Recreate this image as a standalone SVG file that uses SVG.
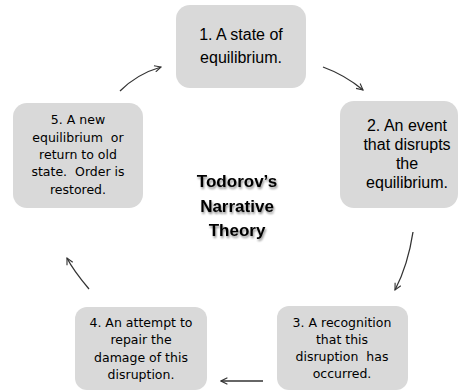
<svg xmlns="http://www.w3.org/2000/svg" width="463" height="391" viewBox="0 0 463 391">
<style>
.box{fill:#d9d9d9;}
.t1{font-family:"Liberation Sans",Arial,sans-serif;font-size:16px;fill:#000;text-anchor:middle;}
.t2{font-family:"DejaVu Sans",Verdana,sans-serif;font-size:12.5px;fill:#000;text-anchor:middle;white-space:pre;}
.title{font-family:"Liberation Sans",Arial,sans-serif;font-weight:bold;font-size:17px;fill:#000;text-anchor:middle;}
.conn{fill:none;stroke:#333;stroke-width:1.3;marker-end:url(#arr);}
</style>
<defs>
<marker id="arr" viewBox="0 0 10 10" refX="9" refY="5" markerWidth="8" markerHeight="8" orient="auto" markerUnits="userSpaceOnUse">
<path d="M1,1 L9,5 L1,9" fill="none" stroke="#333" stroke-width="1.4"/>
</marker>
<filter id="sh" x="-20%" y="-20%" width="140%" height="140%">
<feGaussianBlur in="SourceAlpha" stdDeviation="1"/>
<feOffset dx="1" dy="1.5" result="b"/>
<feComponentTransfer><feFuncA type="linear" slope="0.45"/></feComponentTransfer>
<feMerge><feMergeNode/><feMergeNode in="SourceGraphic"/></feMerge>
</filter>
</defs>
<rect width="463" height="391" fill="#fff"/>
<g id="node1">
<rect class="box" x="176" y="5" width="130" height="83" rx="14"/>
<text class="t1" x="241" y="40">1. A state of</text>
<text class="t1" x="241" y="63">equilibrium.</text>
</g>
<g id="node2">
<rect class="box" x="340" y="101" width="118" height="107" rx="14"/>
<text class="t1" x="407" y="131">2. An event</text>
<text class="t1" x="407" y="150">that disrupts</text>
<text class="t1" x="407" y="169">the</text>
<text class="t1" x="407" y="188">equilibrium.</text>
</g>
<g id="node3">
<rect class="box" x="277" y="306" width="131" height="84" rx="12"/>
<text class="t2" x="342" y="327">3. A recognition</text>
<text class="t2" x="342" y="344">that this</text>
<text class="t2" x="342" y="361">disruption  has</text>
<text class="t2" x="342" y="378">occurred.</text>
</g>
<g id="node4">
<rect class="box" x="75" y="307" width="132" height="83" rx="12"/>
<text class="t2" x="141" y="327">4. An attempt to</text>
<text class="t2" x="141" y="344">repair the</text>
<text class="t2" x="141" y="362">damage of this</text>
<text class="t2" x="141" y="379">disruption.</text>
</g>
<g id="node5">
<rect class="box" x="13" y="103" width="130" height="105" rx="14"/>
<text class="t2" x="78" y="124">5. A new</text>
<text class="t2" x="78" y="142">equilibrium  or</text>
<text class="t2" x="78" y="159">return to old</text>
<text class="t2" x="78" y="176">state.  Order is</text>
<text class="t2" x="78" y="194">restored.</text>
</g>
<g id="center" filter="url(#sh)">
<text class="title" x="237" y="187">Todorov’s</text>
<text class="title" x="237" y="212">Narrative</text>
<text class="title" x="237" y="236">Theory</text>
</g>
<g id="connectors">
<path class="conn" d="M120,91 Q137,74 161,67"/>
<path class="conn" d="M323,67 Q345,75 363,90"/>
<path class="conn" d="M413,232 Q408,265 395,290"/>
<path class="conn" d="M263,381 L221,381"/>
<path class="conn" d="M89,289 Q73,270 67,258"/>
</g>
</svg>
